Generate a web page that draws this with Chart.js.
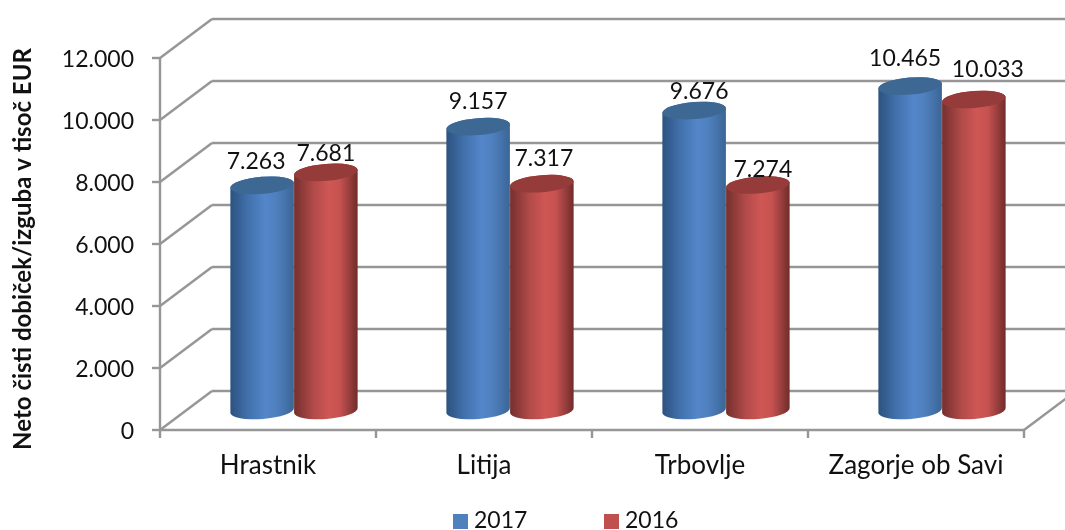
<!DOCTYPE html>
<html>
<head>
<meta charset="utf-8">
<script src="https://cdn.jsdelivr.net/npm/chart.js@4/dist/chart.umd.min.js"></script>
<style>
  html, body { margin: 0; padding: 0; background: #fff; overflow: hidden; }
  canvas { display: block; }
</style>
</head>
<body>
<canvas id="chart" width="1065" height="530"></canvas>
<script>
const categories = ['Hrastnik', 'Litija', 'Trbovlje', 'Zagorje ob Savi'];
const values2017 = [7263, 9157, 9676, 10465];
const values2016 = [7681, 7317, 7274, 10033];
const seriesNames = ['2017', '2016'];
const yTitle = 'Neto čisti dobiček/izguba v tisoč EUR';
const yMax = 12000;
const yStep = 2000;

// hand placed data labels in the original, dx / dy from the top of the bar
const labelShift2017 = [[-6, -24], [0, -25], [5, -19], [-5, -28]];
const labelShift2016 = [[0, -19], [2, -25], [5, -15], [14, -30]];
const labelShifts = [labelShift2017, labelShift2016];

const fontFamily = 'Lato, sans-serif';
const textColor = '#111';
const gridColor = '#969696';
const depthX = 52;
const depthY = 39;

const shades = [
  { stops: ['#2c527f', '#4373ae', '#5386ca', '#4f80be', '#3b6596'], top: '#3d6894', flat: '#4f81bd' },
  { stops: ['#74302e', '#b04a48', '#cf5755', '#c65250', '#6f2c2b'], top: '#953b39', flat: '#c0504d' }
];

function nfmt(v) {
  return String(v).replace(/\B(?=(\d{3})+$)/g, '.');
}

function line(ctx, x1, y1, x2, y2) {
  ctx.beginPath();
  ctx.moveTo(x1, y1);
  ctx.lineTo(x2, y2);
  ctx.stroke();
}

const frame3d = {
  id: 'frame3d',
  beforeDatasetsDraw(chart) {
    const ctx = chart.ctx;
    const a = chart.chartArea;
    const sx = chart.scales.x;
    const sy = chart.scales.y;
    ctx.save();
    ctx.strokeStyle = gridColor;
    ctx.lineWidth = 2.4;
    sy.ticks.forEach(t => {
      const y = sy.getPixelForValue(t.value);
      line(ctx, a.left, y, a.left + depthX, y - depthY);
      line(ctx, a.left + depthX, y - depthY, chart.width + 2, y - depthY);
      line(ctx, a.left - 8, y, a.left, y);
    });
    line(ctx, a.left, a.top - 1, a.left, a.bottom + 8);
    line(ctx, a.left, a.bottom, a.right, a.bottom);
    line(ctx, a.right, a.bottom, a.right + depthX, a.bottom - depthY);
    categories.forEach((c, i) => {
      const x = sx.getPixelForValue(i) + sx.width / categories.length / 2;
      line(ctx, x, a.bottom, x, a.bottom + 8);
    });
    // axis title sits a little below the middle of the axis in the original
    ctx.fillStyle = textColor;
    ctx.font = 'bold 24px ' + fontFamily;
    ctx.textAlign = 'center';
    ctx.textBaseline = 'middle';
    ctx.translate(23, 249);
    ctx.rotate(-Math.PI / 2);
    ctx.fillText(yTitle, 0, 0);
    ctx.restore();
  }
};

const cylinders = {
  id: 'cylinders',
  afterDatasetsDraw(chart) {
    const ctx = chart.ctx;
    const tilt = -0.08;
    const ry = 8.5;
    ctx.save();
    chart.data.datasets.forEach((ds, d) => {
      chart.getDatasetMeta(d).data.forEach(bar => {
        const cx = bar.x + depthX / 2;
        const rx = bar.width / 2;
        const topY = bar.y - depthY / 2;
        const baseY = bar.base - depthY / 2;
        const g = ctx.createLinearGradient(cx - rx, 0, cx + rx, 0);
        const st = shades[d].stops;
        [0, 0.3, 0.55, 0.72, 1].forEach((p, k) => g.addColorStop(p, st[k]));
        ctx.fillStyle = g;
        ctx.beginPath();
        ctx.ellipse(cx, baseY, rx, ry, tilt, 0, Math.PI);
        ctx.ellipse(cx, topY, rx, ry, tilt, Math.PI, 2 * Math.PI);
        ctx.closePath();
        ctx.fill();
        ctx.fillStyle = shades[d].top;
        ctx.beginPath();
        ctx.ellipse(cx, topY, rx, ry, tilt, 0, 2 * Math.PI);
        ctx.fill();
      });
    });
    // value labels
    ctx.font = '23px ' + fontFamily;
    ctx.fillStyle = textColor;
    ctx.textAlign = 'center';
    ctx.textBaseline = 'middle';
    chart.data.datasets.forEach((ds, d) => {
      chart.getDatasetMeta(d).data.forEach((bar, i) => {
        const s = labelShifts[d][i];
        ctx.fillText(nfmt(ds.data[i]), bar.x + depthX / 2 + s[0], bar.y - depthY / 2 + s[1]);
      });
    });
    // legend, spaced wider than the built in one allows
    let x = 453;
    const y = 521;
    ctx.textAlign = 'left';
    chart.data.datasets.forEach((ds, d) => {
      ctx.fillStyle = shades[d].flat;
      ctx.fillRect(x, y - 7, 15, 15);
      ctx.fillStyle = textColor;
      ctx.fillText(ds.label, x + 21, y);
      x += 151;
    });
    ctx.restore();
  }
};

new Chart(document.getElementById('chart'), {
  type: 'bar',
  data: {
    labels: categories,
    datasets: [
      { label: seriesNames[0], data: values2017, backgroundColor: 'transparent' },
      { label: seriesNames[1], data: values2016, backgroundColor: 'transparent' }
    ]
  },
  options: {
    responsive: false,
    animation: false,
    devicePixelRatio: 1,
    layout: { padding: { top: 58, right: 41, bottom: 0, left: 0 } },
    categoryPercentage: 0.59,
    barPercentage: 1,
    plugins: { legend: { display: false }, tooltip: { enabled: false } },
    scales: {
      x: {
        grid: { display: false },
        border: { display: false },
        ticks: { color: textColor, font: { family: fontFamily, size: 26 }, padding: 12, maxRotation: 0 },
        afterFit(s) { s.height = 100; }
      },
      y: {
        min: 0,
        max: yMax,
        grid: { display: false },
        border: { display: false },
        afterFit(s) { s.width = 160; },
        ticks: {
          stepSize: yStep,
          color: textColor,
          font: { family: fontFamily, size: 23 },
          padding: 18,
          labelOffset: 2,
          callback: v => nfmt(v)
        }
      }
    }
  },
  plugins: [frame3d, cylinders]
});
</script>
</body>
</html>
